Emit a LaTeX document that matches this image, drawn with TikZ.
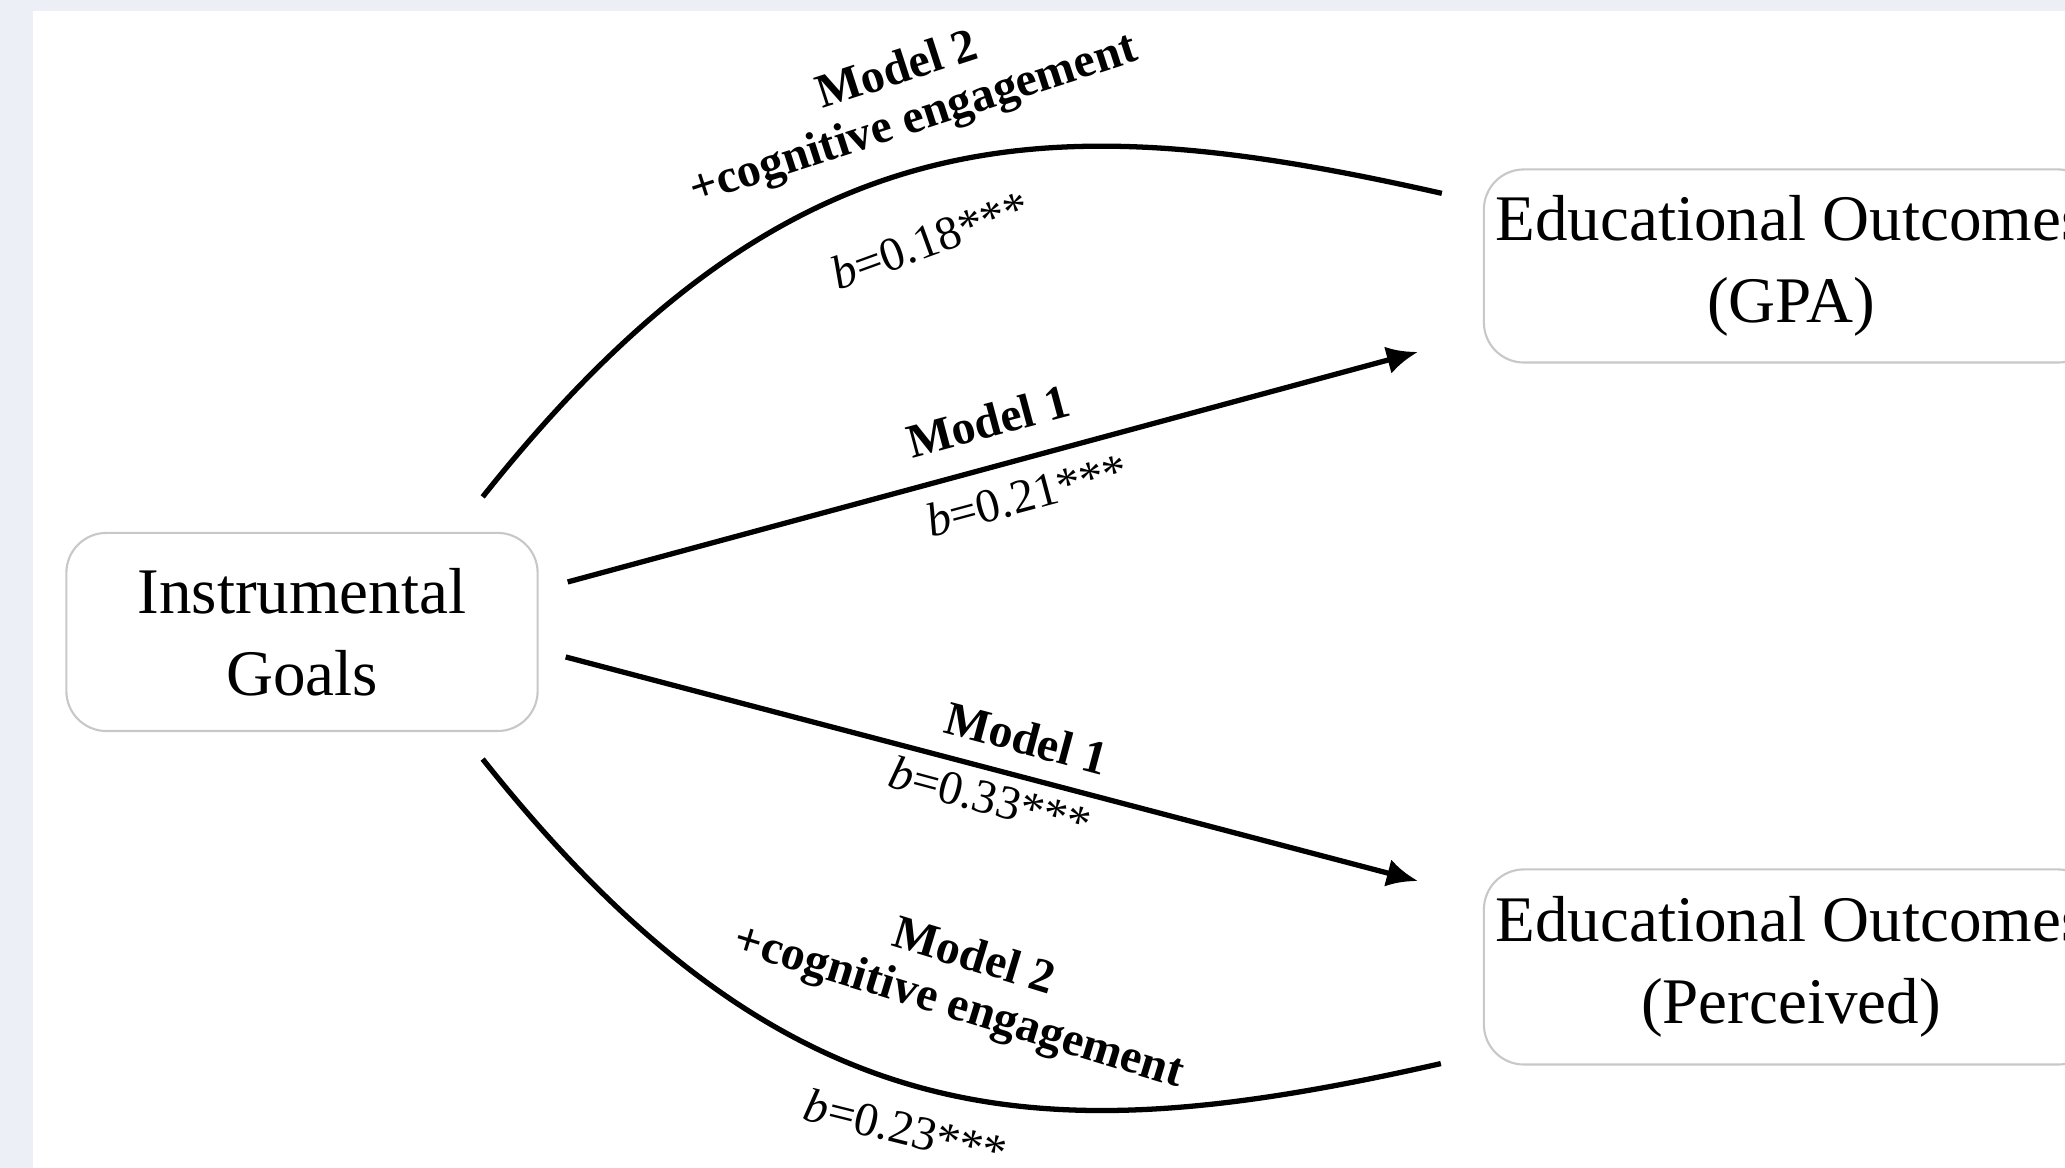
\documentclass[tikz,border=0pt]{standalone}
\usepackage{fontspec}
\setmainfont{Liberation Serif}
\usetikzlibrary{arrows.meta,calc}

\definecolor{framebg}{HTML}{ECEFF5}
\definecolor{boxline}{HTML}{C8C8C8}

\tikzset{
  varbox/.style={draw=boxline, line width=0.6pt, rounded corners=0.4cm, fill=white,
    align=center, font=\fontsize{18.5}{23.3}\selectfont},
  link/.style={line width=1.5pt},
  effect/.style={link, -{Latex[length=3.1mm,width=2.8mm]}},
  modlab/.style={font=\fontsize{13.6}{14.6}\selectfont\bfseries, align=center, inner sep=0pt},
  coeflab/.style={font=\fontsize{13.6}{15}\selectfont, inner sep=0pt}
}

\begin{document}
\begin{tikzpicture}[x=0.01cm,y=0.01cm]
\useasboundingbox (0,0) rectangle (2065,1168);
\clip (0,0) rectangle (2065,1168);
\fill[framebg] (0,0) rectangle (2065,1168);
\fill[white] (33,0) rectangle (2065,1157);

% variables
\node[varbox, minimum width=4.71cm, minimum height=1.98cm] (ig) at (302,536) {Instrumental\\Goals};
\node[varbox, minimum width=6.11cm, minimum height=1.93cm] (gpa) at (1791,902) {Educational Outcomes\\(GPA)};
\node[varbox, minimum width=6.11cm, minimum height=1.95cm] (per) at (1791,201) {Educational Outcomes\\(Perceived)};

% end points of the paths
\coordinate (igA) at ($(ig.east)+(29,50)$);
\coordinate (igB) at ($(ig.east)+(27,-25)$);
\coordinate (igC) at ($(ig.north east)+(-56,35)$);
\coordinate (igD) at ($(ig.south east)+(-56,-27)$);
\coordinate (gpaA) at ($(gpa.west)+(-65,-86)$);
\coordinate (gpaC) at ($(gpa.north west)+(-41,-25)$);
\coordinate (perB) at ($(per.west)+(-65,86)$);
\coordinate (perD) at ($(per.south west)+(-42,2)$);

% Model 1
\draw[effect] (igA) -- (gpaA);
\draw[effect] (igB) -- (perB);
% Model 2
\draw[link] (igC) .. controls +(310,390) and +(-390,88) .. (gpaC);
\draw[link] (igD) .. controls +(310,-390) and +(-390,-88) .. (perD);

% labels
\node[modlab, rotate=18] (m2up) at (906,1071) {Model 2\\+cognitive engagement};
\node[coeflab, rotate=20] (b2up) at (930,928) {\textit{b}=0.18***};
\node[modlab, rotate=15] (m1up) at (988,747) {Model 1};
\node[coeflab, rotate=15] (b1up) at (1027,673) {\textit{b}=0.21***};
\node[modlab, rotate=-15] (m1lo) at (1027,430) {Model 1};
\node[coeflab, rotate=-15] (b1lo) at (990,370) {\textit{b}=0.33***};
\node[modlab, rotate=-17] (m2lo) at (966,184) {Model 2\\+cognitive engagement};
\node[coeflab, rotate=-14] (b2lo) at (906,39) {\textit{b}=0.23***};
\end{tikzpicture}
\end{document}
